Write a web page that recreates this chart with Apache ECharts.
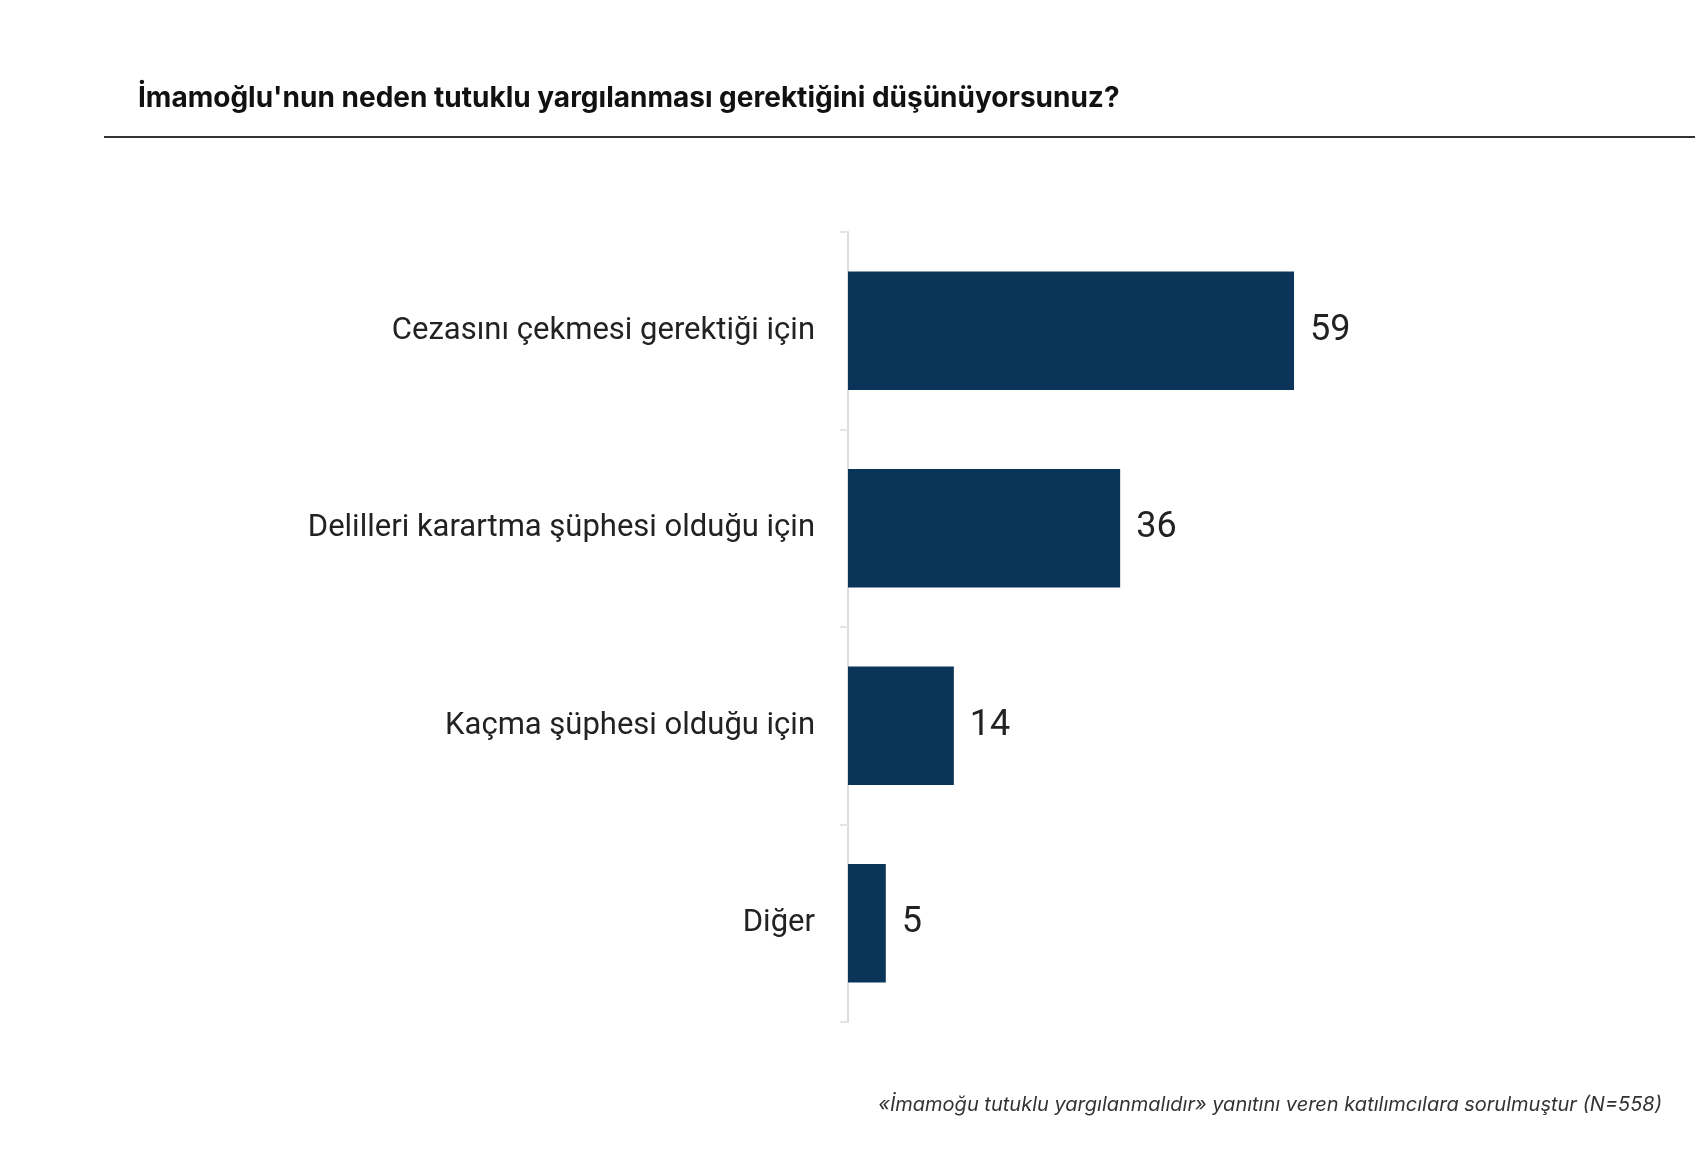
<!DOCTYPE html>
<html><head><meta charset="utf-8">
<script src="https://cdn.jsdelivr.net/npm/echarts@6/dist/echarts.min.js"></script>
<style>html,body{margin:0;background:#fff}#c{width:1700px;height:1164px}</style>
</head><body><div id="c"></div>
<script>
const categories = ["Cezasını çekmesi gerektiği için","Delilleri karartma şüphesi olduğu için","Kaçma şüphesi olduğu için","Diğer"];
const values = [59,36,14,5];
const titleText = "İmamoğlu'nun neden tutuklu yargılanması gerektiğini düşünüyorsunuz?";
const noteText = "«İmamoğu tutuklu yargılanmalıdır» yanıtını veren katılımcılara sorulmuştur (N=558)";
const chart = echarts.init(document.getElementById('c'));
chart.setOption({
  animation:false,
  title:[{text:titleText,left:133,top:80,textStyle:{fontFamily:'Inter',fontWeight:'bold',fontSize:28,color:'#111'}},
         {text:noteText,right:33,top:1090,textStyle:{fontFamily:'Inter',fontStyle:'italic',fontWeight:'normal',fontSize:20,color:'#333'}}],
  graphic:[{type:'line',shape:{x1:104,y1:137,x2:1695,y2:137},style:{stroke:'#333',lineWidth:2}}],
  grid:{left:848,top:232,width:756,height:790},
  xAxis:{type:'value',min:0,max:100,show:false},
  yAxis:{type:'category',data:categories,inverse:true,
    axisLine:{lineStyle:{color:'#ddd',width:2}},
    axisTick:{show:true,length:8,lineStyle:{color:'#e5e5e5',width:2}},
    axisLabel:{fontFamily:'Roboto',fontSize:31,color:'#222',margin:33}},
  series:[{type:'bar',data:values,barWidth:'60%',itemStyle:{color:'#0b3558'},
    label:{show:true,position:'right',distance:16,fontFamily:'Roboto',fontSize:36,color:'#222'}}]
});
</script></body></html>
